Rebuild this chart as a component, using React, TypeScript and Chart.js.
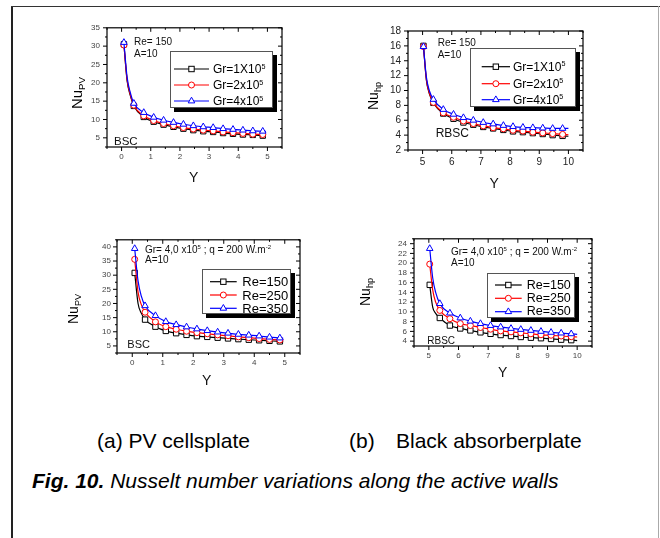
import React, { useEffect, useRef } from "react";
import { Chart, registerables } from "chart.js";

Chart.register(...registerables);

const FONT = '"Liberation Sans", Arial, Helvetica, sans-serif';

// ---------- data ----------
// (a) top: Gr variation, BSC wall (PV cells plate)
const yA = [0.08, 0.19, 0.3, 0.42, 0.76, 1.1, 1.44, 1.78, 2.12, 2.46, 2.8, 3.14, 3.48, 3.82, 4.16, 4.5, 4.84, 4.95];
const nuPvGr1 = [30.5, 20.5, 16.5, 13.7, 10.7, 9.4, 8.6, 8.0, 7.5, 7.1, 6.8, 6.6, 6.3, 6.1, 5.9, 5.8, 5.6, 5.55];
const nuPvGr2 = [30.3, 20.8, 16.8, 13.9, 11.0, 9.7, 8.9, 8.3, 7.8, 7.4, 7.1, 6.9, 6.6, 6.4, 6.2, 6.0, 5.9, 5.85];
const nuPvGr4 = [31.0, 21.5, 17.3, 14.4, 11.9, 10.6, 9.8, 9.2, 8.7, 8.3, 8.0, 7.8, 7.5, 7.3, 7.1, 6.9, 6.8, 6.75];

// (b) top: Gr variation, RBSC wall (black absorber plate)
const yB = [5.03, 5.13, 5.23, 5.37, 5.71, 6.06, 6.4, 6.74, 7.08, 7.42, 7.77, 8.1, 8.44, 8.78, 9.12, 9.46, 9.8, 10.0];
const nuHpGr1 = [16.0, 11.4, 9.6, 8.34, 6.9, 6.2, 5.7, 5.4, 5.1, 4.9, 4.7, 4.5, 4.4, 4.27, 4.15, 4.0, 3.9, 3.85];
const nuHpGr2 = [15.9, 11.5, 9.7, 8.4, 7.0, 6.4, 5.9, 5.55, 5.25, 5.0, 4.85, 4.65, 4.55, 4.4, 4.3, 4.2, 4.1, 4.05];
const nuHpGr4 = [15.9, 11.8, 10.0, 8.8, 7.45, 6.8, 6.35, 6.0, 5.7, 5.5, 5.3, 5.15, 5.05, 5.0, 4.95, 4.9, 4.9, 4.9];

// (a) bottom: Re variation, BSC wall
const nuPvRe150 = [30.8, 20.0, 16.5, 14.3, 11.8, 10.3, 9.5, 8.9, 8.45, 8.2, 7.9, 7.65, 7.4, 7.2, 7.0, 6.8, 6.6, 6.55];
const nuPvRe250 = [35.6, 24.0, 19.5, 16.9, 13.5, 11.8, 10.9, 10.2, 9.7, 9.3, 8.9, 8.6, 8.2, 7.9, 7.6, 7.3, 7.1, 7.05];
const nuPvRe350 = [39.4, 28.0, 22.5, 19.2, 15.7, 13.6, 12.5, 11.7, 11.0, 10.4, 9.9, 9.5, 9.1, 8.8, 8.5, 8.1, 7.8, 7.7];

// (b) bottom: Re variation, RBSC wall
const nuHpRe150 = [15.55, 11.0, 9.7, 8.75, 7.2, 6.6, 6.2, 5.8, 5.5, 5.25, 5.05, 4.85, 4.7, 4.6, 4.45, 4.3, 4.2, 4.1];
const nuHpRe250 = [19.8, 14.5, 12.0, 10.3, 8.6, 7.6, 7.2, 6.8, 6.45, 6.1, 5.9, 5.7, 5.5, 5.3, 5.2, 5.05, 4.9, 4.85];
const nuHpRe350 = [23.0, 17.0, 14.0, 11.7, 9.75, 8.75, 8.1, 7.6, 7.2, 6.9, 6.6, 6.4, 6.2, 6.0, 5.8, 5.65, 5.5, 5.4];

// tick labels
const xTicksA = [0, 1, 2, 3, 4, 5];
const xTicksB = [5, 6, 7, 8, 9, 10];
const yTicksTopA = [5, 10, 15, 20, 25, 30, 35];
const yTicksTopB = [2, 4, 6, 8, 10, 12, 14, 16, 18];
const yTicksBotA = [5, 10, 15, 20, 25, 30, 35, 40];
const yTicksBotB = [4, 6, 8, 10, 12, 14, 16, 18, 20, 22, 24];

const grLabels = ["1X10", "2x10", "4x10"];
const reLabels = ["Re=150", "Re=250", "Re=350"];

// ---------- styles ----------
const COLORS = ["#000000", "#ff0000", "#0000ff"];
const SHAPES = ["rect", "circle", "triangle"] as const;
const RADII = [3.8, 3.0, 3.8];

type PanelCfg = {
  left: number; top: number; w: number; h: number;
  xMin: number; xMax: number; yMin: number; yMax: number;
  xTicks: number[]; yTicks: number[]; xMinor: number; yMinor: number;
  xs: number[]; series: number[][];
  tickSize: number; tickColor: string; xPad: number; yPad: number;
};

const Y_AXIS_W = 34;
const X_AXIS_H = 24;
const PAD = 8;

const framePlugin = {
  id: "frameTicks",
  afterDatasetsDraw(chart: any, _args: any, opts: any) {
    const { ctx, chartArea: a } = chart;
    const xs = chart.scales.x;
    const ys = chart.scales.y;
    ctx.save();
    ctx.strokeStyle = "#000";
    ctx.lineWidth = 1.2;
    ctx.strokeRect(a.left, a.top, a.right - a.left, a.bottom - a.top);
    const major = 4, minor = 2;
    const minors = (min: number, max: number, step: number, majors: number[]) => {
      const out: number[] = [];
      for (let v = Math.ceil(min / step - 1e-9) * step; v <= max + 1e-9; v += step) {
        if (!majors.some((m) => Math.abs(m - v) < 1e-6)) out.push(v);
      }
      return out;
    };
    ctx.beginPath();
    const xMaj = opts.xTicks as number[];
    const yMaj = opts.yTicks as number[];
    const xMin = minors(xs.min, xs.max, opts.xMinor, xMaj);
    const yMin = minors(ys.min, ys.max, opts.yMinor, yMaj);
    const vx = (v: number, len: number) => {
      const p = xs.getPixelForValue(v);
      ctx.moveTo(p, a.bottom); ctx.lineTo(p, a.bottom + len);
      ctx.moveTo(p, a.top); ctx.lineTo(p, a.top + len);
    };
    const vy = (v: number, len: number) => {
      const p = ys.getPixelForValue(v);
      ctx.moveTo(a.left, p); ctx.lineTo(a.left - len, p);
      ctx.moveTo(a.right, p); ctx.lineTo(a.right - len, p);
    };
    xMaj.forEach((v) => vx(v, major));
    xMin.forEach((v) => vx(v, minor));
    yMaj.forEach((v) => vy(v, major));
    yMin.forEach((v) => vy(v, minor));
    ctx.lineWidth = 1;
    ctx.stroke();
    ctx.restore();
  },
};

const isMarked = (i: number, n: number) => i === 0 || (i >= 3 && i < n - 1);

function PanelChart({ p }: { p: PanelCfg }) {
  const ref = useRef<HTMLCanvasElement>(null);
  const cw = Math.round(Y_AXIS_W + p.w + PAD);
  const ch = Math.round(PAD + p.h + X_AXIS_H);
  useEffect(() => {
    const datasets = p.series.map((s, k) => ({
      data: p.xs.map((x, i) => ({ x, y: s[i] })),
      borderColor: COLORS[k],
      backgroundColor: "#ffffff",
      borderWidth: 1.2,
      pointStyle: SHAPES[k],
      pointRadius: (c: any) => (isMarked(c.dataIndex, p.xs.length) ? RADII[k] : 0),
      pointBorderWidth: 1,
      pointBorderColor: COLORS[k],
      pointBackgroundColor: "#ffffff",
      cubicInterpolationMode: "monotone" as const,
      tension: 0.4,
      order: 3 - k,
      clip: 0,
    }));
    const tickFont = { family: FONT, size: p.tickSize };
    const chart = new Chart(ref.current!, {
      type: "line",
      data: { datasets },
      options: {
        responsive: false,
        animation: false,
        events: [],
        layout: { padding: { top: PAD, right: PAD, left: 0, bottom: 0 } },
        plugins: {
          legend: { display: false },
          tooltip: { enabled: false },
          frameTicks: { xTicks: p.xTicks, yTicks: p.yTicks, xMinor: p.xMinor, yMinor: p.yMinor },
        } as any,
        scales: {
          x: {
            type: "linear",
            min: p.xMin,
            max: p.xMax,
            afterBuildTicks: (s: any) => { s.ticks = p.xTicks.map((v) => ({ value: v })); },
            afterFit: (s: any) => { s.height = X_AXIS_H; },
            grid: { display: false, drawTicks: false },
            border: { display: false },
            ticks: { font: tickFont, color: p.tickColor, padding: p.xPad, maxRotation: 0, autoSkip: false },
          },
          y: {
            type: "linear",
            min: p.yMin,
            max: p.yMax,
            afterBuildTicks: (s: any) => { s.ticks = p.yTicks.map((v) => ({ value: v })); },
            afterFit: (s: any) => { s.width = Y_AXIS_W; },
            grid: { display: false, drawTicks: false },
            border: { display: false },
            ticks: { font: tickFont, color: p.tickColor, padding: p.yPad, autoSkip: false },
          },
        },
      },
      plugins: [framePlugin],
    });
    return () => chart.destroy();
  }, []);
  return (
    <canvas
      ref={ref}
      width={cw}
      height={ch}
      style={{ position: "absolute", left: p.left - Y_AXIS_W, top: p.top - PAD, width: cw, height: ch }}
    />
  );
}

const panels: PanelCfg[] = [
  {
    left: 106.7, top: 24.3, w: 175.3, h: 122.7, xMin: -0.5, xMax: 5.5, yMin: 2.5, yMax: 35,
    xTicks: xTicksA, yTicks: yTicksTopA, xMinor: 0.5, yMinor: 2.5,
    xs: yA, series: [nuPvGr1, nuPvGr2, nuPvGr4], tickSize: 8, tickColor: "#444", xPad: 5, yPad: 7,
  },
  {
    left: 407.7, top: 25.7, w: 174.6, h: 124.3, xMin: 4.5, xMax: 10.5, yMin: 2, yMax: 18,
    xTicks: xTicksB, yTicks: yTicksTopB, xMinor: 0.5, yMinor: 1,
    xs: yB, series: [nuHpGr1, nuHpGr2, nuHpGr4], tickSize: 10, tickColor: "#222", xPad: 6, yPad: 7,
  },
  {
    left: 116.7, top: 236.7, w: 182.6, h: 115.6, xMin: -0.5, xMax: 5.5, yMin: 2.5, yMax: 42.5,
    xTicks: xTicksA, yTicks: yTicksBotA, xMinor: 0.5, yMinor: 2.5,
    xs: yA, series: [nuPvRe150, nuPvRe250, nuPvRe350], tickSize: 8, tickColor: "#444", xPad: 5, yPad: 6,
  },
  {
    left: 414, top: 235, w: 178, h: 110.7, xMin: 4.5, xMax: 10.5, yMin: 3, yMax: 25,
    xTicks: xTicksB, yTicks: yTicksBotB, xMinor: 0.5, yMinor: 1,
    xs: yB, series: [nuHpRe150, nuHpRe250, nuHpRe350], tickSize: 8, tickColor: "#444", xPad: 5, yPad: 7,
  },
];

// ---------- html helpers ----------
const Sup = ({ children }: { children: React.ReactNode }) => (
  <span style={{ fontSize: "0.6em", position: "relative", top: "-0.6em" }}>{children}</span>
);
const Sub = ({ children }: { children: React.ReactNode }) => (
  <span style={{ fontSize: "0.65em", position: "relative", top: "0.35em" }}>{children}</span>
);

function Txt({ x, y, size, children, style }: any) {
  return (
    <div
      style={{
        position: "absolute", left: x, top: y, fontSize: size, lineHeight: 1,
        fontFamily: FONT, whiteSpace: "nowrap", color: "#111", ...style,
      }}
    >
      {children}
    </div>
  );
}

function VTitle({ cx, cy, size, main, sub }: any) {
  return (
    <div
      style={{
        position: "absolute", left: cx, top: cy, fontSize: size, lineHeight: 1,
        fontFamily: FONT, whiteSpace: "nowrap", color: "#000",
        transform: "translate(-50%,-50%) rotate(-90deg)",
      }}
    >
      {main}
      <Sub>{sub}</Sub>
    </div>
  );
}

function Marker({ k, cx, cy }: { k: number; cx: number; cy: number }) {
  const c = COLORS[k];
  if (SHAPES[k] === "rect") {
    const s = 5.4;
    return <rect x={cx - s / 2} y={cy - s / 2} width={s} height={s} fill="#fff" stroke={c} strokeWidth={1} />;
  }
  if (SHAPES[k] === "circle") {
    return <circle cx={cx} cy={cy} r={3} fill="#fff" stroke={c} strokeWidth={1} />;
  }
  const r = 3.8;
  const pts = [
    [cx, cy - r],
    [cx + r * 0.866, cy + r * 0.5],
    [cx - r * 0.866, cy + r * 0.5],
  ].map((q) => q.join(",")).join(" ");
  return <polygon points={pts} fill="#fff" stroke={c} strokeWidth={1} />;
}

function Legend({ box, rows, lineX, textX, size, labels }: any) {
  const [l, t, r, b] = box;
  return (
    <>
      <div style={{ position: "absolute", left: l + 4, top: t + 4, width: r - l, height: b - t, background: "#000" }} />
      <div
        style={{
          position: "absolute", left: l, top: t, width: r - l, height: b - t,
          background: "#fff", border: "1px solid #555", boxSizing: "border-box",
        }}
      />
      <svg style={{ position: "absolute", left: 0, top: 0, overflow: "visible" }} width={1} height={1}>
        {rows.map((ry: number, k: number) => (
          <g key={k}>
            <line x1={lineX[0]} x2={lineX[1]} y1={ry} y2={ry} stroke={COLORS[k]} strokeWidth={1.2} />
            <Marker k={k} cx={(lineX[0] + lineX[1]) / 2} cy={ry} />
          </g>
        ))}
      </svg>
      {rows.map((ry: number, k: number) => (
        <Txt key={k} x={textX} y={ry - size * 0.5} size={size} style={{ color: "#000" }}>
          {labels[k]}
        </Txt>
      ))}
    </>
  );
}

const grLegend = grLabels.map((g) => (
  <>
    Gr={g.slice(3)}
    <Sup>5</Sup>
  </>
));
const grLegendFull = grLabels.map((g) => (
  <>
    {"Gr=" + g}
    <Sup>5</Sup>
  </>
));

export default function App() {
  const grText = (
    <>
      Gr= 4,0 x10<Sup>5</Sup> ; q = 200 W.m<Sup>-2</Sup>
    </>
  );
  return (
    <div style={{ position: "absolute", left: 0, top: 0, width: 660, height: 538, background: "#fff", overflow: "hidden" }}>
      {/* figure frame */}
      <div style={{ position: "absolute", left: 10.5, top: 5.5, width: 2, height: 540, background: "#222" }} />
      <div style={{ position: "absolute", left: 10.5, top: 5.5, width: 649, height: 1.5, background: "#333" }} />
      <div style={{ position: "absolute", left: 658, top: 5.5, width: 1, height: 540, background: "#aaa" }} />

      {panels.map((p, i) => (
        <PanelChart key={i} p={p} />
      ))}

      {/* panel (a) top */}
      <Txt x={134} y={37} size={10}>Re= 150</Txt>
      <Txt x={134} y={49} size={10}>A=10</Txt>
      <Txt x={114} y={136} size={11.5}>BSC</Txt>
      <Legend box={[170, 51, 273, 108]} rows={[69, 85, 101]} lineX={[174, 209]} textX={213} size={12} labels={grLegendFull} />
      <VTitle cx={76} cy={93} size={15} main="Nu" sub="PV" />
      <Txt x={189} y={170} size={14}>Y</Txt>

      {/* panel (b) top */}
      <Txt x={437.7} y={38} size={10}>Re= 150</Txt>
      <Txt x={437.7} y={50.4} size={10}>A=10</Txt>
      <Txt x={435.7} y={126.7} size={12}>RBSC</Txt>
      <Legend box={[470, 48, 576, 107]} rows={[66.7, 83.7, 99.7]} lineX={[481.7, 510]} textX={513} size={12} labels={grLegendFull} />
      <VTitle cx={373} cy={96} size={14} main="Nu" sub="hp" />
      <Txt x={489.5} y={176} size={14}>Y</Txt>

      {/* panel (a) bottom */}
      <Txt x={145} y={244.7} size={10}>{grText}</Txt>
      <Txt x={145} y={255.4} size={10}>A=10</Txt>
      <Txt x={127.3} y={338.6} size={11}>BSC</Txt>
      <Legend box={[202.3, 269.3, 291, 314]} rows={[281.7, 295, 308.3]} lineX={[210, 236.7]} textX={242.3} size={13} labels={reLabels} />
      <VTitle cx={73} cy={309} size={14} main="Nu" sub="PV" />
      <Txt x={202} y={373} size={14}>Y</Txt>

      {/* panel (b) bottom */}
      <Txt x={451} y={247} size={10}>{grText}</Txt>
      <Txt x={451} y={258} size={10}>A=10</Txt>
      <Txt x={427.3} y={336.4} size={10}>RBSC</Txt>
      <Legend box={[486.7, 273.3, 575, 318.3]} rows={[285, 298.3, 311.7]} lineX={[495, 521.7]} textX={526.7} size={12.5} labels={reLabels} />
      <VTitle cx={365} cy={292} size={14} main="Nu" sub="hp" />
      <Txt x={498} y={365} size={14}>Y</Txt>

      {/* captions */}
      <Txt x={97} y={430.2} size={21} style={{ color: "#000" }}>(a) PV cellsplate</Txt>
      <Txt x={349} y={430.2} size={21} style={{ color: "#000" }}>(b)</Txt>
      <Txt x={396} y={430.2} size={21} style={{ color: "#000" }}>Black absorberplate</Txt>
      <Txt x={32} y={470.2} size={21} style={{ color: "#000", fontStyle: "italic" }}>
        <b>Fig. 10.</b> Nusselt number variations along the active walls
      </Txt>
    </div>
  );
}
